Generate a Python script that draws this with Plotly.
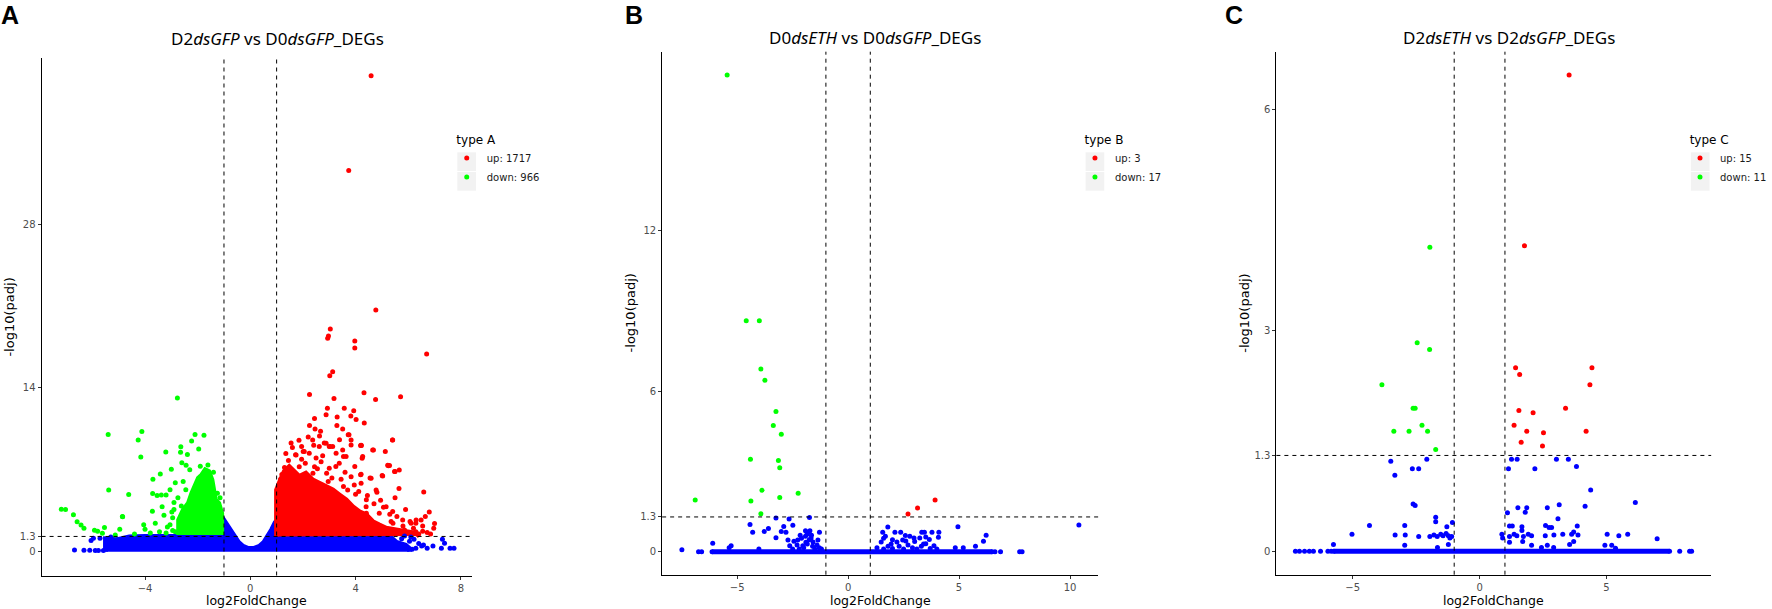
import plotly.graph_objects as go

# ──────────────────────────────
# data (log2FoldChange, -log10(padj))
# ──────────────────────────────

# panel A : D2 dsGFP vs D0 dsGFP
a_up_pts = [
    (4.59, 40.71), (3.74, 32.60), (4.77, 20.66), (3.04, 19.04), (2.97, 18.45), (2.94, 18.25),
    (3.97, 18.02), (3.97, 17.42), (6.70, 16.91), (3.13, 15.38), (3.02, 15.04), (2.25, 13.45),
    (3.18, 13.10), (4.32, 13.60), (4.76, 13.02), (5.71, 13.26), (2.93, 12.27), (3.57, 12.27),
    (3.93, 12.05), (2.88, 11.70), (3.30, 11.52), (3.82, 11.60), (4.02, 11.30), (4.33, 11.00),
    (2.44, 11.40), (2.25, 10.78), (2.46, 10.50), (2.63, 9.90), (3.29, 10.80), (3.51, 10.50),
    (3.72, 10.00), (2.67, 10.29), (1.85, 9.52), (2.37, 9.55), (2.62, 8.99), (2.88, 9.27),
    (3.13, 8.99), (3.26, 8.41), (3.51, 8.70), (3.64, 8.13), (3.83, 9.55), (3.83, 9.13),
    (4.22, 9.07), (4.68, 8.70), (5.41, 9.55), (5.13, 8.56), (5.29, 7.36), (5.50, 6.85),
    (5.03, 6.48), (4.27, 8.13), (4.21, 6.62), (3.38, 7.56), (3.00, 7.13), (2.69, 7.70),
    (2.44, 7.27), (2.24, 8.41), (2.05, 8.56), (1.74, 8.27), (1.86, 7.27), (1.61, 6.84),
    (1.48, 6.41), (2.41, 9.10), (3.00, 9.00), (4.21, 9.10), (4.25, 7.99), (5.22, 7.40),
    (5.66, 6.99), (4.59, 6.27), (4.78, 5.28), (4.21, 5.85), (3.83, 6.41), (3.70, 5.28),
    (5.16, 3.85), (5.41, 3.43), (5.79, 2.71), (6.11, 2.43), (6.30, 2.71), (5.35, 2.57),
    (4.40, 3.85), (4.90, 3.28), (4.59, 2.43), (4.02, 2.43), (6.59, 5.11), (6.80, 3.40),
    (4.81, 5.09), (4.41, 4.43), (5.06, 3.80), (6.65, 3.00), (6.49, 2.71), (6.29, 2.43),
    (6.97, 2.00), (6.07, 2.57), (5.57, 3.00), (5.42, 2.43), (5.86, 1.86), (6.72, 1.63),
    (6.29, 1.71), (4.41, 3.29), (5.65, 5.40), (6.55, 2.20), (6.85, 1.50), (6.40, 1.50),
    (4.12, 5.14), (3.54, 5.57), (2.38, 6.71), (2.96, 6.00), (3.25, 7.29), (3.97, 7.29),
    (3.54, 8.14), (3.39, 9.57), (3.03, 9.00), (2.81, 9.29), (2.01, 8.57), (1.72, 8.29),
    (2.09, 7.57), (3.75, 10.00), (4.19, 9.09), (4.65, 8.69), (5.25, 7.34), (5.48, 6.86),
    (5.01, 6.51), (4.19, 6.57), (4.55, 6.29), (5.40, 9.54), (1.30, 7.20), (1.20, 6.60),
    (1.45, 7.80), (1.60, 8.90), (2.90, 6.70), (3.60, 6.80), (3.10, 6.30), (4.00, 4.90),
    (4.70, 4.10), (5.50, 4.60), (5.90, 3.60), (6.20, 2.00), (1.35, 8.40), (1.55, 9.30),
    (1.95, 9.00), (2.20, 9.80), (2.75, 8.20), (2.50, 8.00), (1.15, 6.20), (1.95, 7.90),
    (2.55, 7.10), (3.45, 6.20), (3.95, 5.70), (4.45, 4.80), (4.95, 4.40), (5.30, 3.20),
    (5.80, 2.20), (6.55, 1.75), (7.00, 2.40),
]
# outline of the solid red cloud
a_up_cloud = [
    (1.00, 1.30), (1.00, 5.28), (1.10, 5.85), (1.29, 6.85), (1.48, 7.27), (1.67, 6.85),
    (1.86, 6.42), (2.11, 6.70), (2.37, 6.13), (2.62, 5.85), (2.88, 5.56), (3.13, 5.28),
    (3.38, 4.85), (3.64, 4.42), (3.89, 3.85), (4.14, 3.42), (4.40, 3.14), (4.65, 2.57),
    (4.90, 2.28), (5.16, 2.00), (5.54, 1.85), (5.92, 1.71), (6.30, 1.57), (6.43, 1.34),
]
a_down_pts = [
    (-2.77, 13.14), (-5.40, 10.02), (-4.12, 10.27), (-4.26, 9.56), (-4.16, 8.09), (-2.10, 10.03),
    (-1.76, 9.96), (-2.64, 8.98), (-2.23, 9.47), (-2.65, 8.50), (-1.96, 8.78), (-2.39, 8.30),
    (-3.21, 8.53), (-3.00, 7.05), (-2.44, 7.39), (-1.61, 7.42), (-3.42, 6.65), (-3.70, 6.19),
    (-5.38, 5.27), (-4.62, 4.89), (-4.86, 3.00), (-3.71, 4.97), (-3.54, 4.80), (-3.38, 4.84),
    (-3.20, 4.84), (-3.72, 3.45), (-3.35, 3.85), (-3.28, 3.11), (-4.05, 2.30), (-4.00, 1.91),
    (-3.61, 2.43), (-7.18, 3.62), (-7.02, 3.60), (-6.72, 3.16), (-6.58, 2.55), (-6.43, 2.28),
    (-6.32, 2.00), (-5.92, 1.82), (-5.80, 1.74), (-5.62, 1.57), (-5.54, 2.07), (-4.96, 1.91),
    (-5.13, 1.43), (-4.85, 2.99), (-2.98, 3.40), (-2.90, 4.20), (-3.05, 5.30), (-2.85, 5.90),
    (-2.55, 6.00), (-2.75, 4.60), (-3.15, 2.10), (-3.45, 1.70), (-2.95, 1.80), (-3.80, 1.60),
    (-4.40, 1.50), (-2.60, 7.60), (-2.30, 7.00), (-3.05, 2.30), (-2.95, 2.90), (-2.85, 1.70),
    (-3.20, 1.60), (-2.90, 3.60), (-2.45, 5.30), (-2.62, 3.90), (-1.90, 7.30), (-1.40, 6.80),
    (-1.25, 5.00), (-1.15, 4.60),
]
a_down_cloud = [
    (-2.72, 1.43), (-2.72, 2.71), (-2.54, 3.57), (-2.35, 4.14), (-2.22, 4.99), (-2.09, 5.71),
    (-1.97, 6.28), (-1.84, 6.56), (-1.71, 6.99), (-1.58, 6.85), (-1.46, 6.13), (-1.33, 4.42),
    (-1.20, 4.14), (-1.09, 3.28), (-1.09, 1.43),
]
a_ns_pts = [
    (-6.68, 0.15), (-6.32, 0.12), (-6.10, 0.12), (-5.89, 0.10), (-5.77, 0.10), (-5.58, 0.10),
    (-5.96, 1.15), (-5.71, 1.15), (-5.30, 1.25), (-6.05, 0.95), (5.86, 1.34), (6.22, 1.06),
    (6.58, 0.57), (7.30, 1.06), (7.38, 0.71), (6.51, 0.49), (6.94, 0.49), (7.26, 0.29),
    (7.59, 0.29), (7.74, 0.29), (5.93, 0.37), (6.29, 0.29), (6.72, 0.29), (6.05, 0.90),
    (6.40, 0.70), (6.15, 0.20), (5.75, 1.10), (6.10, 1.25),
]
a_ns_cloud = [
    (-5.50, 0.00), (-5.50, 1.10), (-5.00, 1.05), (-4.60, 1.25), (-4.00, 1.30), (-3.00, 1.30),
    (-2.00, 1.30), (-1.20, 1.30), (-1.07, 2.90), (-0.92, 2.40), (-0.78, 1.80), (-0.62, 1.25),
    (-0.45, 0.80), (-0.28, 0.45), (-0.10, 0.28), (0.15, 0.28), (0.35, 0.45), (0.52, 0.80),
    (0.68, 1.30), (0.82, 1.90), (0.95, 2.50), (1.05, 2.70), (1.10, 1.30), (2.00, 1.30),
    (3.00, 1.30), (4.00, 1.30), (5.00, 1.30), (5.35, 1.20), (5.55, 0.80), (5.90, 0.55),
    (6.05, 0.25), (6.05, 0.00),
]

# panel B : D0 dsETH vs D0 dsGFP
b_up_pts = [(2.70, 1.41), (3.13, 1.63), (3.92, 1.93)]
b_down_pts = [
    (-5.45, 17.83), (-4.59, 8.64), (-4.00, 8.64), (-3.93, 6.83), (-3.75, 6.41), (-3.25, 5.24),
    (-3.37, 4.72), (-3.01, 4.39), (-4.40, 3.46), (-3.14, 3.41), (-3.08, 3.14), (-3.88, 2.30),
    (-2.25, 2.19), (-6.89, 1.93), (-4.38, 1.90), (-3.08, 2.03), (-3.93, 1.42),
]
b_ns_pts = [
    (-7.49, 0.07), (-6.74, 0.00), (-6.60, 0.00), (-6.10, 0.32), (-4.02, 0.10), (-5.27, 0.22),
    (-5.36, 0.15), (-3.25, 1.26), (-2.66, 1.22), (-1.74, 1.28), (-4.42, 1.02), (-4.30, 0.73),
    (-3.78, 0.76), (-3.59, 0.87), (-3.01, 0.76), (-2.90, 0.94), (-3.25, 0.52), (-2.80, 0.73),
    (-2.49, 0.99), (-2.71, 0.44), (-2.44, 0.39), (-2.27, 0.44), (-2.16, 0.62), (-1.92, 0.78),
    (-1.80, 0.73), (-1.72, 0.78), (-1.92, 0.58), (-1.67, 0.51), (-1.29, 0.73), (-1.36, 0.44),
    (-1.58, 0.36), (-1.84, 0.29), (-2.04, 0.22), (-2.63, 0.22), (1.79, 0.92), (1.56, 0.73),
    (1.68, 0.58), (1.49, 0.36), (2.11, 0.73), (2.37, 0.73), (2.58, 0.61), (2.78, 0.58),
    (2.97, 0.51), (3.32, 0.73), (3.44, 0.73), (3.78, 0.73), (4.09, 0.73), (4.07, 0.54),
    (3.66, 0.46), (3.23, 0.51), (3.87, 0.22), (4.95, 0.93), (6.22, 0.62), (6.10, 0.39),
    (4.83, 0.15), (5.19, 0.15), (5.74, 0.20), (10.40, 1.00), (2.20, 0.36), (2.46, 0.44),
    (1.94, 0.29), (3.40, 0.29), (6.62, 0.00), (6.87, 0.00), (7.73, 0.00), (7.84, 0.00),
    (-2.20, 0.10), (-2.00, 0.15), (-1.90, 0.35), (-1.75, 0.45), (-1.60, 0.20), (-1.50, 0.10),
    (-1.40, 0.25), (-1.30, 0.15), (-1.20, 0.10), (-2.10, 0.50), (-1.85, 0.65), (-1.65, 0.62),
    (-2.30, 0.25), (-2.50, 0.10), (1.60, 0.10), (1.80, 0.20), (2.00, 0.12), (2.30, 0.20),
    (2.50, 0.10), (2.70, 0.25), (2.90, 0.15), (3.10, 0.10), (3.30, 0.20), (3.50, 0.30),
    (3.70, 0.12), (4.00, 0.10), (2.00, 0.45), (2.60, 0.40), (3.00, 0.38), (3.50, 0.55),
    (1.60, 0.50), (1.30, 0.15),
]
b_ns_zero = [(-6.13, 0.0), (6.49, 0.0)]   # run of genes sitting on padj = 1

# panel C : D2 dsETH vs D2 dsGFP
c_up_pts = [
    (3.53, 6.47), (1.77, 4.15), (1.42, 2.49), (1.58, 2.40), (4.43, 2.49), (4.35, 2.26),
    (1.55, 1.91), (2.11, 1.88), (3.39, 1.94), (1.36, 1.71), (1.86, 1.63), (2.52, 1.61),
    (4.20, 1.63), (1.64, 1.48), (2.48, 1.43),
]
c_down_pts = [
    (-1.96, 4.13), (-2.46, 2.83), (-1.97, 2.74), (-3.85, 2.26), (-2.62, 1.94), (-2.54, 1.94),
    (-2.27, 1.71), (-3.38, 1.63), (-2.78, 1.63), (-2.05, 1.63), (-1.73, 1.38),
]
c_ns_pts = [
    (-3.50, 1.22), (-2.08, 1.25), (-3.34, 1.03), (-2.65, 1.12), (-2.40, 1.12), (1.26, 1.25),
    (1.48, 1.25), (1.14, 1.12), (2.18, 1.12), (3.03, 1.25), (3.50, 1.25), (3.82, 1.15),
    (4.38, 0.83), (6.14, 0.66), (-2.62, 0.64), (-2.54, 0.62), (1.10, 0.52), (1.51, 0.59),
    (1.86, 0.59), (1.80, 0.53), (2.67, 0.59), (3.14, 0.63), (4.16, 0.61), (3.09, 0.44),
    (-1.73, 0.46), (-1.73, 0.40), (-1.07, 0.39), (-4.34, 0.35), (-2.95, 0.35), (-5.03, 0.23),
    (-3.33, 0.22), (-2.93, 0.22), (-2.40, 0.20), (-5.76, 0.09), (-2.95, 0.08), (-1.96, 0.20),
    (-1.80, 0.22), (-1.67, 0.20), (-1.53, 0.23), (-1.44, 0.21), (-1.32, 0.24), (-1.29, 0.33),
    (-1.23, 0.21), (-1.17, 0.18), (-1.10, 0.20), (-1.66, 0.05), (-1.23, 0.09), (1.18, 0.34),
    (1.29, 0.34), (1.67, 0.33), (0.88, 0.23), (0.91, 0.18), (1.18, 0.20), (1.36, 0.23),
    (1.47, 0.21), (1.67, 0.28), (1.73, 0.20), (1.92, 0.23), (2.05, 0.21), (1.18, 0.12),
    (1.70, 0.13), (2.05, 0.08), (2.60, 0.35), (2.74, 0.32), (2.84, 0.32), (2.59, 0.21),
    (2.93, 0.22), (3.28, 0.23), (3.63, 0.23), (3.85, 0.34), (3.71, 0.26), (3.88, 0.22),
    (2.44, 0.05), (2.67, 0.08), (2.92, 0.05), (3.55, 0.09), (3.71, 0.13), (4.94, 0.08),
    (5.03, 0.23), (5.21, 0.08), (5.49, 0.21), (5.84, 0.23), (5.36, 0.04), (7.00, 0.17),
    (-7.26, 0.00), (-7.10, 0.00), (-6.90, 0.00), (-6.71, 0.00), (-6.55, 0.00), (-6.27, 0.00),
    (-5.98, 0.00), (-5.85, 0.00), (7.89, 0.00), (8.28, 0.00), (8.36, 0.00),
]
c_ns_zero = [(-5.75, 0.0), (7.49, 0.0)]

counts = {"A": (1717, 966), "B": (3, 17), "C": (15, 11)}

# ──────────────────────────────
# layout (pixel positions measured on the 1772x609 reference)
# ──────────────────────────────
W, H = 1772, 609
RED, GREEN, BLUE = "#FF0000", "#00FF00", "#0000FF"
DOT = 5
TXT = "DejaVu Sans"

panels = [
    dict(tag="A", title="D2<i>dsGFP</i> vs D0<i>dsGFP</i>_DEGs", title_x=278, title_y=38,
         xdom=(41.7, 473.5), ydom=(58.3, 575.5), xr=(-7.93, 8.43), yr=(-2.04, 42.2),
         xt=[-4, 0, 4, 8], yt=[0, 1.3, 14, 28], leg_x=461, letter_x=10,
         up=a_up_pts, down=a_down_pts, ns=a_ns_pts,
         clouds=[(a_ns_cloud, BLUE), (a_up_cloud, RED), (a_down_cloud, GREEN)], zero=None),
    dict(tag="B", title="D0<i>dsETH</i> vs D0<i>dsGFP</i>_DEGs", title_x=877.6, title_y=37,
         xdom=(664, 1101.3), ydom=(51.7, 574.7), xr=(-8.38, 11.27), yr=(-0.86, 18.70),
         xt=[-5, 0, 5, 10], yt=[0, 1.3, 6, 12], leg_x=1091, letter_x=635.5,
         up=b_up_pts, down=b_down_pts, ns=b_ns_pts, clouds=[], zero=b_ns_zero),
    dict(tag="C", title="D2<i>dsETH</i> vs D2<i>dsGFP</i>_DEGs", title_x=1513, title_y=37,
         xdom=(1280, 1716), ydom=(51.7, 574.7), xr=(-8.01, 9.13), yr=(-0.32, 6.785),
         xt=[-5, 0, 5], yt=[0, 1.3, 3, 6], leg_x=1698, letter_x=1237,
         up=c_up_pts, down=c_down_pts, ns=c_ns_pts, clouds=[], zero=c_ns_zero),
]

fig = go.Figure()
shapes, annotations = [], []
layout = {}

for i, p in enumerate(panels):
    n = "" if i == 0 else str(i + 1)
    xa, ya = "x" + n, "y" + n
    leg = "legend" + n

    # dense clouds first (drawn as filled outlines, like overlapping dots)
    for pts, col in p["clouds"]:
        xs, ys = zip(*pts)
        fig.add_trace(go.Scatter(
            x=xs, y=ys, xaxis=xa, yaxis=ya, mode="lines", fill="toself",
            fillcolor=col, line=dict(color=col, width=DOT), showlegend=False,
            hoverinfo="skip"))
    if p["zero"]:
        xs, ys = zip(*p["zero"])
        fig.add_trace(go.Scatter(
            x=xs, y=ys, xaxis=xa, yaxis=ya, mode="lines+markers",
            line=dict(color=BLUE, width=DOT), marker=dict(color=BLUE, size=DOT),
            showlegend=False, hoverinfo="skip"))

    xs, ys = zip(*p["ns"])
    fig.add_trace(go.Scatter(x=xs, y=ys, xaxis=xa, yaxis=ya, mode="markers",
                             marker=dict(color=BLUE, size=DOT), name="none",
                             showlegend=False))
    n_up, n_down = counts[p["tag"]]
    xs, ys = zip(*p["up"])
    fig.add_trace(go.Scatter(x=xs, y=ys, xaxis=xa, yaxis=ya, mode="markers",
                             marker=dict(color=RED, size=DOT), name=f"up: {n_up}",
                             legend=leg))
    xs, ys = zip(*p["down"])
    fig.add_trace(go.Scatter(x=xs, y=ys, xaxis=xa, yaxis=ya, mode="markers",
                             marker=dict(color=GREEN, size=DOT), name=f"down: {n_down}",
                             legend=leg))

    x0, x1 = p["xdom"]
    y0, y1 = p["ydom"]
    axis_common = dict(showgrid=False, zeroline=False, showline=True, linecolor="black",
                       linewidth=1, ticks="outside", ticklen=3, tickcolor="#333333",
                       tickfont=dict(family=TXT, size=10, color="#4D4D4D"), fixedrange=True)
    layout["xaxis" + n] = dict(axis_common, domain=[x0 / W, x1 / W], range=list(p["xr"]),
                               tickvals=p["xt"], anchor=ya)
    layout["yaxis" + n] = dict(axis_common, domain=[1 - y1 / H, 1 - y0 / H], range=list(p["yr"]),
                               tickvals=p["yt"], ticktext=[f"{v:g}" for v in p["yt"]], anchor=xa)

    # threshold lines
    dash = dict(color="black", width=1, dash="4px,4px")
    for xv in (-1, 1):
        shapes.append(dict(type="line", xref=xa, yref=ya + " domain", x0=xv, x1=xv,
                           y0=0, y1=1, line=dash))
    shapes.append(dict(type="line", xref=xa + " domain", yref=ya, x0=0, x1=1,
                       y0=1.3, y1=1.3, line=dash))

    # legend with grey key boxes (plotly puts the symbol 20px in, the text 40px in)
    lx = p["leg_x"]
    L = lx - 13
    layout[leg] = dict(x=L / W, y=1 - 128 / H, xanchor="left", yanchor="top",
                       bgcolor="rgba(0,0,0,0)", font=dict(family=TXT, size=10, color="#1A1A1A"),
                       title=dict(text="\u00a0\u00a0type " + p["tag"],
                                  font=dict(family=TXT, size=12, color="black")),
                       itemwidth=30, tracegroupgap=0)
    for ky in (152.3, 172.0):
        shapes.append(dict(type="rect", xref="paper", yref="paper", layer="below",
                           x0=(L + 20 - 9.35) / W, x1=(L + 20 + 9.35) / W,
                           y0=1 - (ky + 18.7) / H, y1=1 - ky / H,
                           fillcolor="#F2F2F2", line=dict(width=0)))

    # panel title, letter, axis titles
    annotations.append(dict(text=p["title"], x=p["title_x"] / W, y=1 - p["title_y"] / H,
                            xref="paper", yref="paper", showarrow=False, xanchor="center",
                            yanchor="middle", font=dict(family="Noto Sans", size=17, color="black")))
    annotations.append(dict(text=f"<b>{p['tag']}</b>", x=p["letter_x"] / W, y=1 - 15 / H,
                            xref="paper", yref="paper", showarrow=False, xanchor="center",
                            yanchor="middle", font=dict(family="Liberation Sans", size=25, color="black")))
    annotations.append(dict(text="log2FoldChange", x=(x0 + x1) / 2 / W, y=0.5 / H,
                            xref="paper", yref="paper", showarrow=False, xanchor="center",
                            yanchor="bottom", borderpad=0,
                            font=dict(family=TXT, size=12.5, color="black")))
    annotations.append(dict(text="-log10(padj)", x=(x0 - 32) / W, y=1 - (y0 + y1) / 2 / H,
                            xref="paper", yref="paper", showarrow=False, textangle=-90,
                            xanchor="center", yanchor="middle",
                            font=dict(family=TXT, size=13, color="black")))

fig.update_layout(
    width=W, height=H, margin=dict(l=0, r=0, t=0, b=0),
    paper_bgcolor="white", plot_bgcolor="white",
    shapes=shapes, annotations=annotations, **layout,
)

# the page's default body margin would push the figure 8px down/right
fig.write_html("out.html", config={"displayModeBar": False},
               post_script="document.body.style.margin='0';document.body.style.overflow='hidden';")
